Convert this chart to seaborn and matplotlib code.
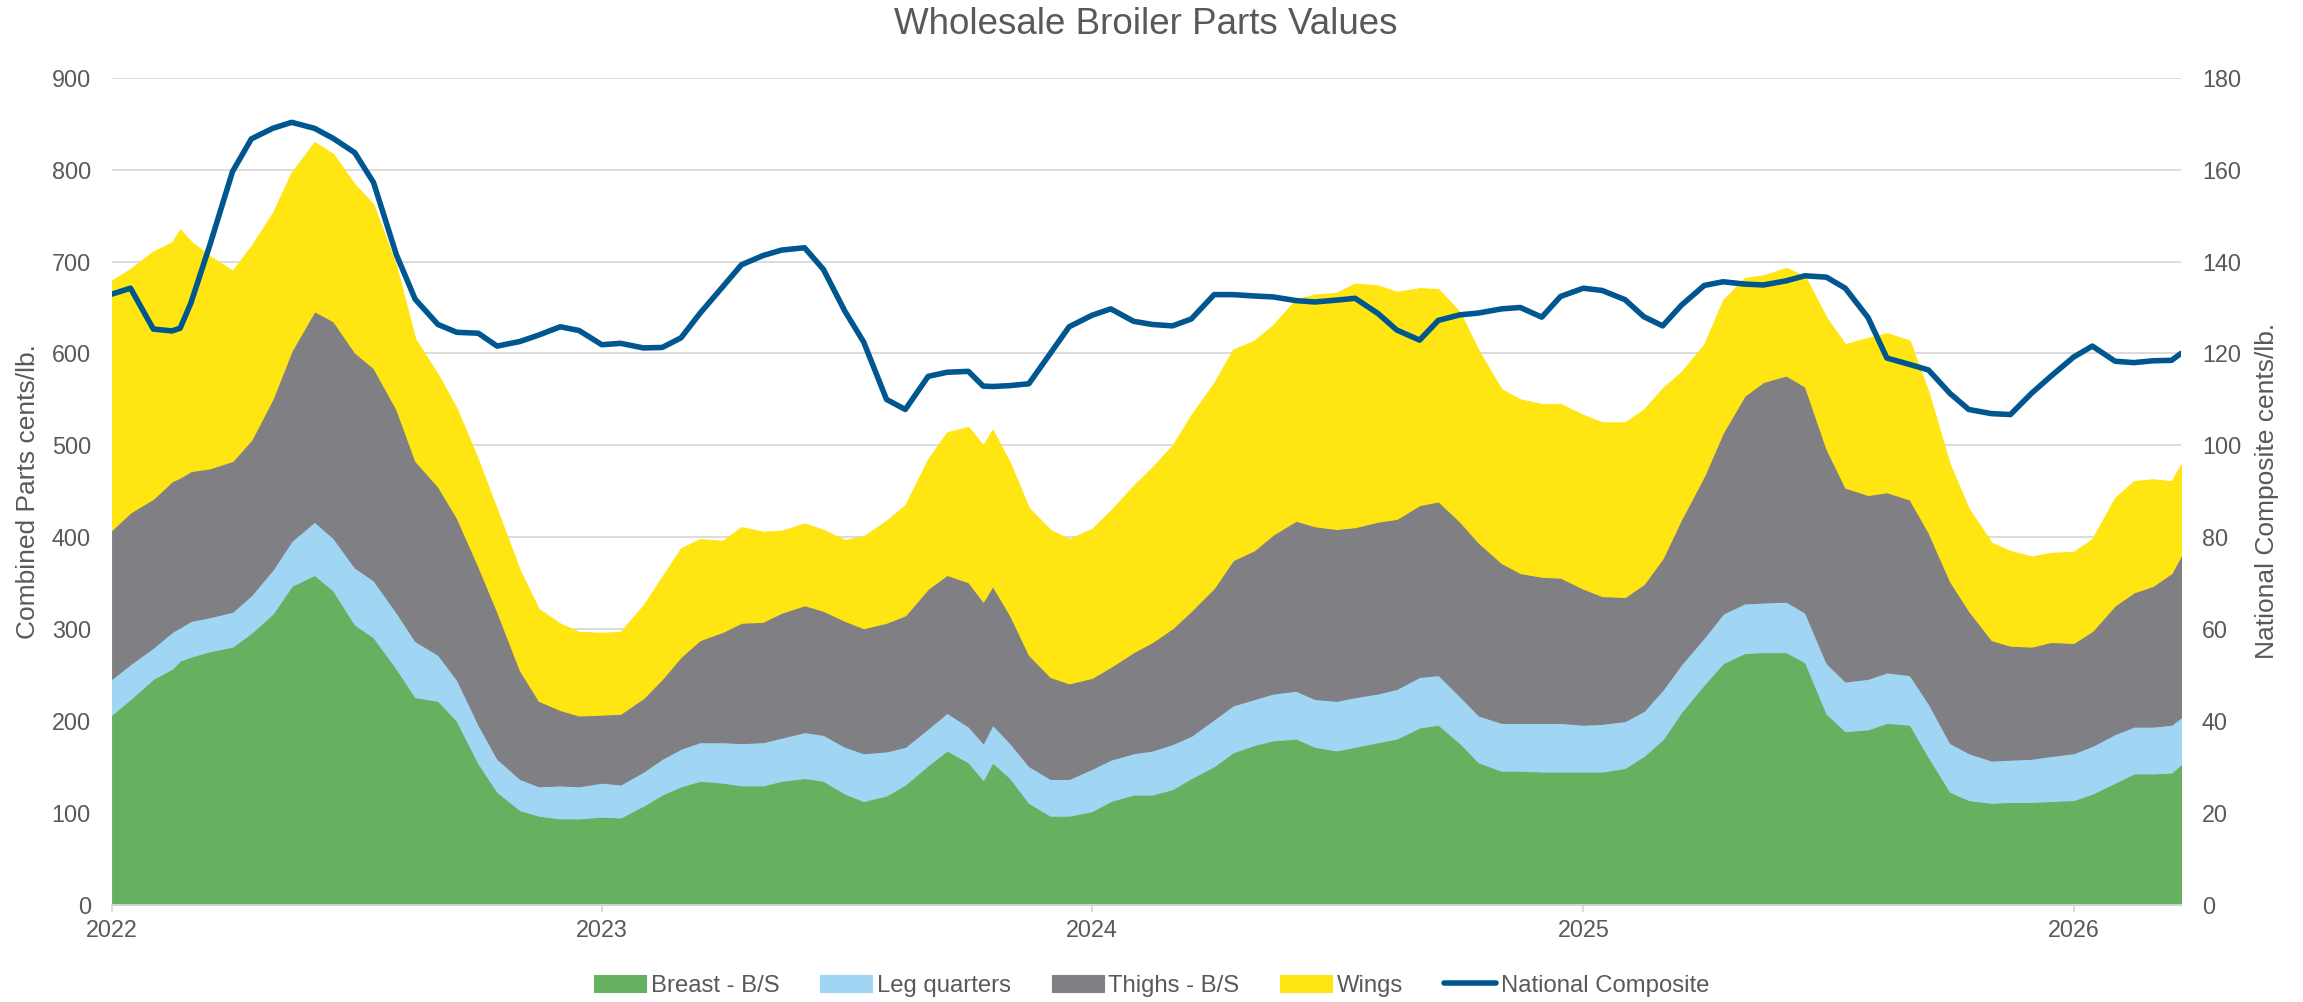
import pandas as pd
import matplotlib
matplotlib.use("Agg")
import matplotlib.pyplot as plt
import matplotlib.dates as mdates
from matplotlib.lines import Line2D
import seaborn as sns

# semi-monthly readings, 2022-01 .. 2026-03
dates = [
    # 2022
    "2022-01-01", "2022-01-15", "2022-02-01", "2022-02-15", "2022-02-21", "2022-03-01",
    "2022-03-15", "2022-04-01", "2022-04-15", "2022-05-01", "2022-05-15", "2022-06-01",
    "2022-06-15", "2022-07-01", "2022-07-15", "2022-08-01", "2022-08-15", "2022-09-01",
    "2022-09-15", "2022-10-01", "2022-10-15", "2022-11-01", "2022-11-15", "2022-12-01",
    "2022-12-15",
    # 2023
    "2023-01-01", "2023-01-15", "2023-02-01", "2023-02-15", "2023-03-01", "2023-03-15",
    "2023-04-01", "2023-04-15", "2023-05-01", "2023-05-15", "2023-06-01", "2023-06-15",
    "2023-07-01", "2023-07-15", "2023-08-01", "2023-08-15", "2023-09-01", "2023-09-15",
    "2023-10-01", "2023-10-12", "2023-10-19", "2023-11-01", "2023-11-15", "2023-12-01",
    "2023-12-15",
    # 2024
    "2024-01-01", "2024-01-15", "2024-02-01", "2024-02-15", "2024-03-01", "2024-03-15",
    "2024-04-01", "2024-04-15", "2024-05-01", "2024-05-15", "2024-06-01", "2024-06-15",
    "2024-07-01", "2024-07-15", "2024-08-01", "2024-08-15", "2024-09-01", "2024-09-15",
    "2024-10-01", "2024-10-15", "2024-11-01", "2024-11-15", "2024-12-01", "2024-12-15",
    # 2025
    "2025-01-01", "2025-01-15", "2025-02-01", "2025-02-15", "2025-03-01", "2025-03-15",
    "2025-04-01", "2025-04-15", "2025-05-01", "2025-05-15", "2025-06-01", "2025-06-15",
    "2025-07-01", "2025-07-15", "2025-08-01", "2025-08-15", "2025-09-01", "2025-09-15",
    "2025-10-01", "2025-10-15", "2025-11-01", "2025-11-15", "2025-12-01", "2025-12-15",
    # 2026
    "2026-01-01", "2026-01-15", "2026-02-01", "2026-02-15", "2026-03-01", "2026-03-15",
    "2026-03-22",
]

breast = [
    207, 224, 246, 257, 266, 270, 276, 281, 296, 317, 347, 359, 342,
    305, 291, 257, 226, 222, 200, 154, 123, 103, 97, 94, 94,
    96, 95, 108, 120, 129, 135, 133, 130, 130, 135, 138, 135, 121,
    113, 119, 131, 152, 168, 155, 136, 155, 138, 111, 97, 97,
    102, 113, 120, 120, 126, 138, 151, 166, 174, 179, 181, 172,
    168, 172, 177, 181, 193, 196, 176, 155, 146, 146, 145, 145,
    145, 145, 149, 162, 180, 210, 240, 263, 274, 275, 275, 264,
    208, 189, 191, 198, 196, 161, 123, 114, 111, 112, 112, 113,
    114, 121, 133, 143, 143, 144, 153,
]
leg_quarters = [
    39, 38, 34, 40, 36, 39, 37, 38, 41, 48, 49, 58, 57,
    62, 62, 61, 61, 50, 45, 42, 36, 34, 32, 36, 35,
    37, 36, 37, 39, 41, 42, 44, 46, 47, 47, 50, 50, 51,
    52, 48, 41, 40, 41, 39, 40, 41, 38, 40, 40, 40,
    46, 45, 45, 48, 49, 46, 51, 51, 50, 51, 52, 52,
    54, 54, 53, 54, 55, 54, 51, 51, 52, 52, 53, 53,
    51, 52, 51, 49, 54, 52, 51, 54, 54, 54, 55, 54,
    55, 54, 55, 55, 54, 58, 53, 51, 46, 46, 47, 49,
    51, 52, 53, 51, 51, 52, 51,
]
thighs = [
    162, 165, 162, 164, 163, 163, 162, 164, 169, 186, 207, 229, 236,
    234, 231, 221, 196, 183, 176, 172, 160, 118, 93, 82, 77,
    74, 77, 80, 87, 100, 111, 120, 131, 131, 136, 138, 135, 137,
    136, 140, 143, 152, 150, 157, 154, 151, 139, 121, 111, 104,
    99, 101, 110, 118, 126, 136, 143, 158, 162, 173, 185, 188,
    187, 185, 187, 185, 187, 189, 190, 188, 174, 163, 159, 158,
    148, 139, 135, 138, 143, 158, 176, 197, 226, 240, 246, 246,
    233, 211, 200, 196, 191, 186, 176, 155, 131, 124, 122, 124,
    120, 125, 140, 146, 153, 165, 176,
]
wings = [
    271, 265, 269, 260, 270, 250, 231, 207, 211, 202, 194, 184, 182,
    183, 178, 156, 133, 122, 119, 116, 111, 109, 100, 94, 91,
    89, 89, 101, 111, 118, 110, 99, 104, 98, 89, 89, 88, 88,
    100, 111, 120, 141, 155, 169, 170, 170, 166, 160, 160, 157,
    162, 170, 181, 190, 199, 213, 223, 229, 228, 228, 241, 252,
    257, 265, 257, 247, 236, 231, 228, 209, 189, 189, 188, 189,
    189, 189, 190, 190, 185, 160, 143, 144, 128, 116, 117, 120,
    143, 156, 171, 173, 173, 153, 127, 111, 106, 103, 98, 97,
    99, 100, 117, 121, 116, 100, 99,
]
# right axis, cents/lb.
national_composite = [
    132.9, 134.2, 125.3, 124.9, 125.5, 131.0, 143.5, 159.6, 166.7, 169.0, 170.3, 169.0, 166.8,
    163.7, 157.2, 141.5, 131.8, 126.3, 124.6, 124.4, 121.6, 122.6, 124.0, 125.8, 125.0,
    121.9, 122.2, 121.2, 121.3, 123.4, 128.7, 134.5, 139.3, 141.3, 142.5, 143.0, 138.3, 129.2,
    122.5, 110.0, 107.8, 115.0, 115.9, 116.1, 112.9, 112.8, 113.0, 113.4, 120.0, 125.8,
    128.3, 129.7, 127.0, 126.3, 126.0, 127.5, 132.8, 132.8, 132.5, 132.3, 131.5, 131.2,
    131.6, 132.0, 128.7, 125.1, 122.9, 127.2, 128.4, 128.8, 129.7, 130.0, 127.9, 132.4,
    134.2, 133.7, 131.7, 128.0, 126.0, 130.5, 134.8, 135.6, 135.1, 134.9, 135.8, 136.9,
    136.6, 134.2, 127.8, 119.0, 117.6, 116.4, 111.3, 107.8, 106.9, 106.7, 111.4, 115.0,
    119.2, 121.6, 118.3, 118.0, 118.4, 118.5, 120.0,
]

part_names = ["Breast - B/S", "Leg quarters", "Thighs - B/S", "Wings"]
part_colors = ["#66B160", "#A0D6F4", "#807F84", "#FFE512"]
line_color = "#00578F"
text_color = "#595959"
grid_color = "#D9D9D9"

df = pd.DataFrame({
    "date": pd.to_datetime(dates),
    "Breast - B/S": breast,
    "Leg quarters": leg_quarters,
    "Thighs - B/S": thighs,
    "Wings": wings,
    "National Composite": national_composite,
})

sns.set_theme(style="white")
plt.rcParams["font.family"] = ["Liberation Sans", "DejaVu Sans"]

fig, ax = plt.subplots(figsize=(23.03, 10.02), dpi=100)
fig.subplots_adjust(left=0.0485, right=0.947, top=0.9224, bottom=0.097)

ax.stackplot(df["date"], [df[c] for c in part_names], colors=part_colors,
             labels=part_names, edgecolor="face", linewidth=0.8)

ax2 = ax.twinx()
sns.lineplot(data=df, x="date", y="National Composite", ax=ax2,
             color=line_color, linewidth=4.0, legend=False)

# axes styling
ax.set_ylim(0, 900)
ax.set_yticks(range(0, 901, 100))
ax2.set_ylim(0, 180)
ax2.set_yticks(range(0, 181, 20))
ax.set_xlim(pd.Timestamp("2022-01-01"), df["date"].iloc[-1])

ax.xaxis.set_major_locator(mdates.YearLocator())
ax.xaxis.set_major_formatter(mdates.DateFormatter("%Y"))

ax.yaxis.grid(True, color=grid_color, linewidth=1.3)
ax.xaxis.grid(False)
ax.set_axisbelow(True)
ax2.grid(False)

for s in ["top", "left", "right"]:
    ax.spines[s].set_visible(False)
ax.spines["bottom"].set_color(grid_color)
ax.spines["bottom"].set_linewidth(1.3)
for s in ax2.spines.values():
    s.set_visible(False)

ax.tick_params(axis="y", length=0, labelsize=16.8, labelcolor=text_color, pad=15)
ax.tick_params(axis="x", length=5, width=1.3, color=grid_color, labelsize=16.8,
               labelcolor=text_color, pad=5, bottom=True)
ax2.tick_params(axis="y", length=0, labelsize=16.8, labelcolor=text_color, pad=15)

ax.set_xlabel("")
ax2.set_xlabel("")
ax.set_ylabel("Combined Parts cents/lb.", fontsize=19, color=text_color)
ax2.set_ylabel("National Composite cents/lb.", fontsize=19, color=text_color)
ax.yaxis.label.set_va("center")
ax2.yaxis.label.set_va("center")
ax.yaxis.set_label_coords(-0.0404, 0.5)
ax2.yaxis.set_label_coords(1.0416, 0.5)

fig.text(0.4977, 0.9754, "Wholesale Broiler Parts Values", ha="center", va="center",
         fontsize=26.5, color=text_color)

# legend along the bottom
handles, labels = ax.get_legend_handles_labels()
handles.append(Line2D([0], [0], color=line_color, linewidth=4.0))
labels.append("National Composite")
fig.legend(handles, labels, loc="center", bbox_to_anchor=(0.5, 0.016), ncol=5,
           frameon=False, fontsize=17.2, handlelength=2.18, handleheight=0.75,
           handletextpad=0.2, columnspacing=1.7, labelcolor=text_color)

fig.savefig("out.png", dpi=100)
